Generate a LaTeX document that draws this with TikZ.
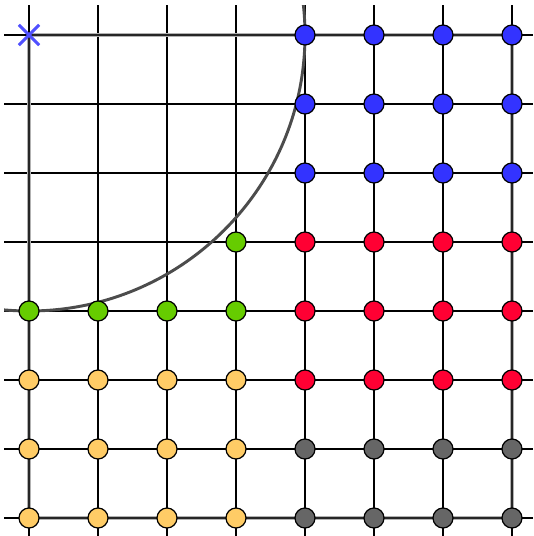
\documentclass[tikz,border=0pt]{standalone}
\usetikzlibrary{shapes.misc}
\definecolor{dblue}{HTML}{3333FF}
\definecolor{dred}{HTML}{FF0033}
\definecolor{dgreen}{HTML}{66CC00}
\definecolor{dorange}{HTML}{FFCC66}
\definecolor{dgray}{HTML}{666666}
\definecolor{xblue}{HTML}{5050FF}
\begin{document}
\begin{tikzpicture}[x=0.75pt,y=-0.75pt,
  gridline/.style={black,line width=0.85pt},
  halo/.style={black!30,line width=3.2pt},
  frame/.style={black!85,line width=1.9pt},
  arcline/.style={black!70,line width=2.2pt},
  dot/.style={circle,draw=black,line width=0.9pt,minimum size=15pt,inner sep=0pt},
  crossmark/.style={cross out,draw=xblue,line width=2.2pt,minimum size=13pt,inner sep=0pt}]
\useasboundingbox (0,0) rectangle (533,536);
\fill[white] (0,0) rectangle (533,536);
% grid
\foreach \i in {0,...,7}{
  \draw[gridline] ({29+69*\i},5) -- ({29+69*\i},536);
  \draw[gridline] (4,{35+69*\i}) -- (533,{35+69*\i});
}
% frame
\draw[halo] (29,35) rectangle (512,518);
\draw[frame] (29,35) rectangle (512,518);
% arc
\begin{scope}
  \clip (4,5) rectangle (533,536);
  \draw[arcline] (29,35) circle[radius=276];
\end{scope}
% dots: blue
\foreach \r in {0,1,2}{
  \foreach \c in {4,...,7}{
    \node[dot,fill=dblue] (d-\c-\r) at ({29+69*\c},{35+69*\r}) {};
  }
}
% red
\foreach \r in {3,4,5}{
  \foreach \c in {4,...,7}{
    \node[dot,fill=dred] (d-\c-\r) at ({29+69*\c},{35+69*\r}) {};
  }
}
% gray
\foreach \r in {6,7}{
  \foreach \c in {4,...,7}{
    \node[dot,fill=dgray] (d-\c-\r) at ({29+69*\c},{35+69*\r}) {};
  }
}
% orange
\foreach \r in {5,6,7}{
  \foreach \c in {0,...,3}{
    \node[dot,fill=dorange] (d-\c-\r) at ({29+69*\c},{35+69*\r}) {};
  }
}
% green
\foreach \c in {0,...,3}{
  \node[dot,fill=dgreen] (d-\c-4) at ({29+69*\c},{35+69*4}) {};
}
\node[dot,fill=dgreen] (d-3-3) at ({29+69*3},{35+69*3}) {};
% cross
\node[crossmark] (origin) at (29,35) {};
\end{tikzpicture}
\end{document}
